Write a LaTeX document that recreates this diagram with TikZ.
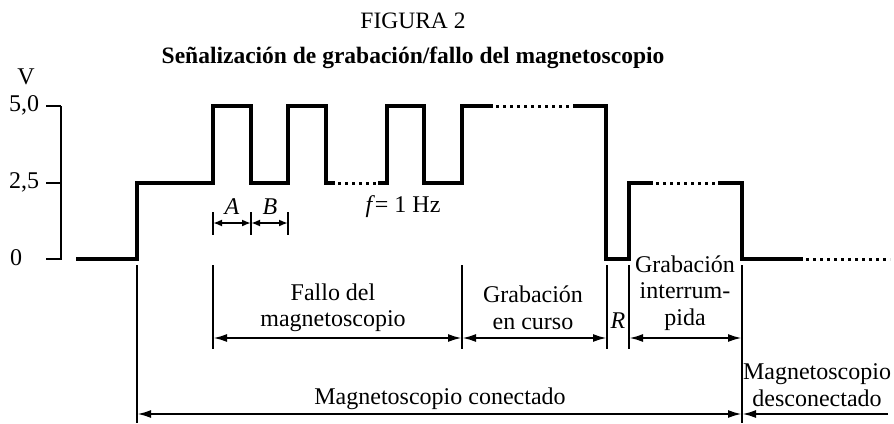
\documentclass[tikz,border=0pt]{standalone}
\usepackage{fontspec}
\setmainfont{Liberation Serif}
\usetikzlibrary{arrows.meta}
\begin{document}
\begin{tikzpicture}[x=1pt,y=-1pt,
  sig/.style={line width=3.2pt,line join=miter},
  dotsig/.style={line width=3.0pt,dash pattern=on 2.6pt off 4.4pt},
  axis/.style={line width=2.2pt},
  tick/.style={line width=2.2pt},
  dimarr/.style={line width=2.2pt,{Latex[length=14pt,width=8pt]}-{Latex[length=14pt,width=8pt]}},
  smallarr/.style={line width=2.2pt,{Latex[length=9pt,width=7pt]}-{Latex[length=9pt,width=7pt]}},
  onearr/.style={line width=2.2pt,-{Latex[length=14pt,width=8pt]}},
  lbl/.style={font=\fontsize{24}{26.5}\selectfont,inner sep=0pt,align=center},
  ttl/.style={font=\fontsize{23.5}{26}\selectfont,inner sep=0pt}]
\useasboundingbox (0,0) rectangle (894,423);

% titles
\node[ttl] (fig) at (413,21) {FIGURA 2};
\node[ttl,font=\fontsize{23.5}{26}\selectfont\bfseries] (title) at (413,58) {Señalización de grabación/fallo del magnetoscopio};

% axis
\draw[axis] (61,106) -- (61,259);
\draw[axis] (46,106) -- (61,106);
\draw[axis] (46,183) -- (61,183);
\draw[axis] (46,259) -- (62,259);
\node[lbl] (V) at (26,77) {V};
\node[lbl,anchor=west] (l50) at (9,105) {5,0};
\node[lbl,anchor=west] (l25) at (9,182) {2,5};
\node[lbl,anchor=west] (l0) at (10,258) {0};

% signal
\draw[sig] (76,259) -- (137,259) -- (137,183) -- (213,183) -- (213,106) -- (251,106) -- (251,183) -- (288,183) -- (288,106) -- (326,106) -- (326,183) -- (335,183);
\draw[dotsig] (338,183) -- (378,183);
\draw[sig] (378,183) -- (387,183) -- (387,106) -- (424,106) -- (424,183) -- (462,183) -- (462,106) -- (493,106);
\draw[dotsig] (496,106) -- (573,106);
\draw[sig] (573,106) -- (606,106) -- (606,259) -- (629,259) -- (629,183) -- (653,183);
\draw[dotsig] (656,183) -- (718,183);
\draw[sig] (718,183) -- (742,183) -- (742,259) -- (803,259);
\draw[dotsig] (806,259) -- (890,259);

% A / B
\coordinate (a0) at (213,223);
\coordinate (a1) at (251,223);
\coordinate (a2) at (288,223);
\draw[tick] (213,212) -- (213,235);
\draw[tick] (251,212) -- (251,235);
\draw[tick] (288,212) -- (288,235);
\draw[smallarr] (a0) -- (a1);
\draw[smallarr] (a1) -- (a2);
\node[lbl] (A) at (232,207) {\textit{A}};
\node[lbl] (B) at (270,207) {\textit{B}};
\node[lbl] (f) at (403,207) {\textit{f}= 1 Hz};

% dimension ticks
\draw[tick] (137,265) -- (137,423);
\draw[tick] (213,265) -- (213,349);
\draw[tick] (462,265) -- (462,349);
\draw[tick] (607,265) -- (607,349);
\draw[tick] (629,265) -- (629,349);
\draw[tick] (742,265) -- (742,423);

\coordinate (d1) at (213,338);
\coordinate (d2) at (462,338);
\coordinate (d3) at (607,338);
\coordinate (d4) at (629,338);
\coordinate (d5) at (742,338);
\draw[dimarr] (d1) -- (d2);
\draw[dimarr] (d2) -- (d3);
\draw[dimarr] (d4) -- (d5);

\coordinate (c1) at (137,414);
\coordinate (c2) at (742,414);
\coordinate (c3) at (888,414);
\draw[dimarr] (c1) -- (c2);
\draw[onearr] (c3) -- (c2);

% labels
\node[lbl] (fallo) at (333,308) {Fallo del\\magnetoscopio};
\node[lbl] (curso) at (533,308) {Grabación\\en curso};
\node[lbl] (R) at (618,321) {\textit{R}};
\node[lbl] (interr) at (685,293) {Grabación\\interrum-\\pida};
\node[lbl] (con) at (440,399) {Magnetoscopio conectado};
\node[lbl] (descon) at (817,385) {Magnetoscopio\\desconectado};
\end{tikzpicture}
\end{document}
